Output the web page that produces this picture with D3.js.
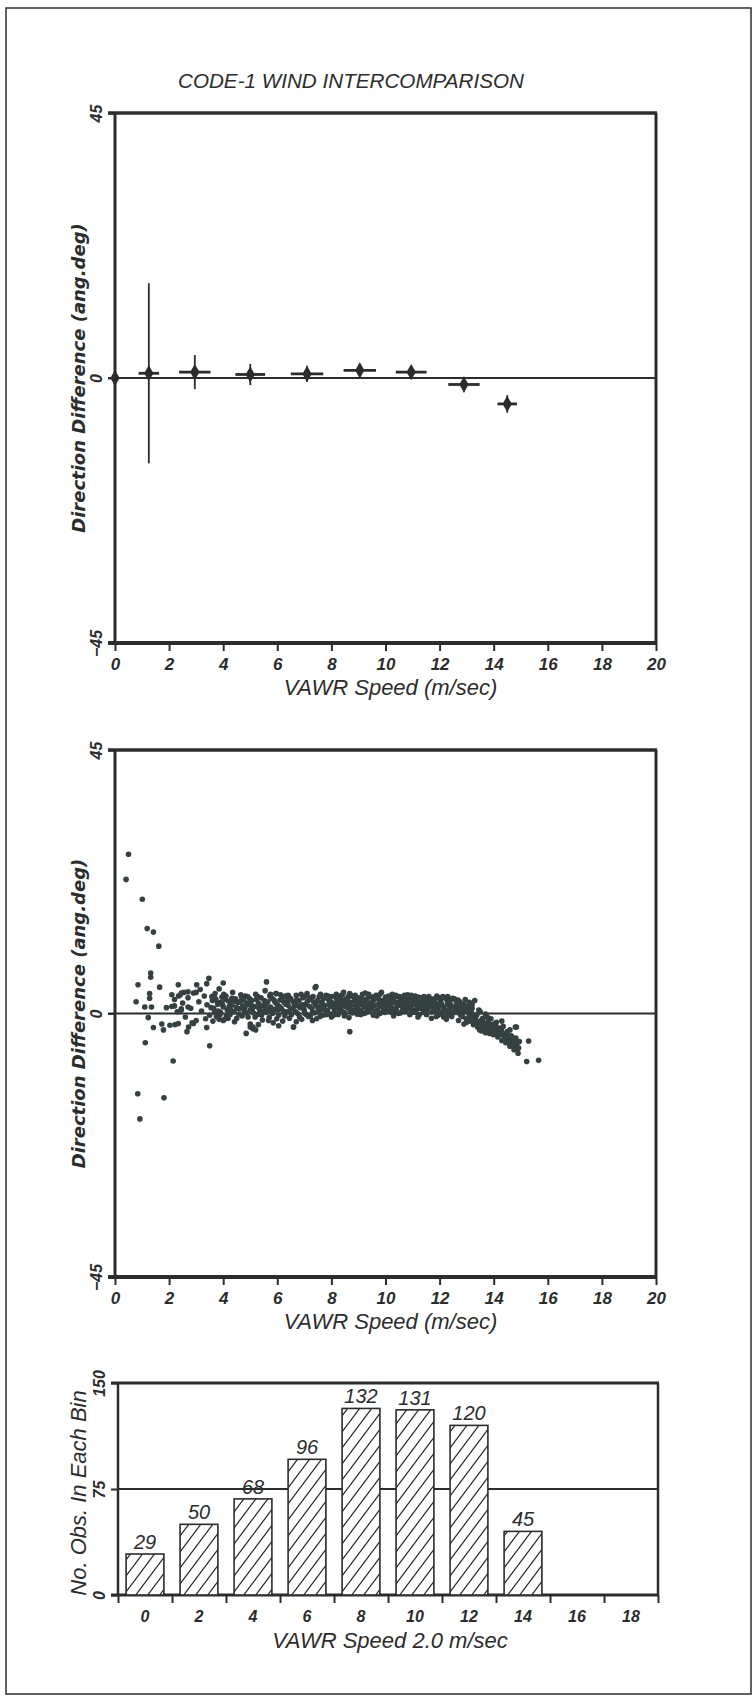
<!DOCTYPE html>
<html><head><meta charset="utf-8">
<script src="https://cdn.jsdelivr.net/npm/d3@7"></script>
<style>body{margin:0;background:#fff}svg{display:block}</style>
</head><body>
<script>
// ---------- data ----------
const chartTitle = "CODE-1 WIND INTERCOMPARISON";
const speedTicks = [0,2,4,6,8,10,12,14,16,18,20];
const diffTicks = [-45,0,45];
const countTicks = [0,75,150];

// panel 1: bin means with error bars
const binSpeed  = [0, 1.25, 2.95, 5.0, 7.1, 9.05, 10.95, 12.9, 14.5];
const meanDiff  = [0, 0.8, 1.0, 0.6, 0.7, 1.3, 1.0, -1.1, -4.4];
const diffErr   = [0, 15.3, 2.9, 1.8, 1.4, 1.1, 0.8, 1.3, 1.5];
const speedErr  = [0, 0.38, 0.58, 0.55, 0.6, 0.6, 0.57, 0.58, 0.36];

// panel 2: individual observations [speed, direction difference]
const scatterPoints = [
[0.41,22.9],[0.50,27.2],[1.01,19.5],[1.19,14.5],[1.42,13.9],[1.62,11.5],[1.32,6.9],[1.32,6.2],[0.85,4.9],[1.65,4.5],
[0.78,2.0],[1.12,-5.0],[2.15,-8.1],[0.84,-13.7],[1.81,-14.4],[0.92,-18.0],[3.50,-5.5],[4.85,-3.4],[8.68,-3.1],[15.29,-4.7],
[15.22,-8.2],[15.66,-8.0],[14.84,-2.3],[5.60,5.4],[3.47,6.0],[4.00,5.2],[7.43,4.6],
[1.28,3.4],[1.28,2.6],[1.10,1.1],[1.35,1.1],[1.23,-0.7],[1.42,-2.4],[1.73,-1.8],[1.79,-2.8],[2.03,-2.0],[2.22,-1.9],[2.34,-1.7],
[2.1,3.2],[2.35,3.0],[2.45,3.5],[2.7,3.7],[3.0,3.6],[1.9,1.0],[2.2,1.3],[2.45,0.6],[2.7,1.1],[2.66,-3.1],[2.72,-2.3],[2.9,-1.7],
[3.39,-2.4],[3.85,-1.0],[4.0,-1.2],[5.0,-2.3],[5.1,-2.6],[5.2,-2.8],[6.6,-2.3],[5.96,3.4],[6.4,3.1],[2.34,4.9],[3.02,4.9],[3.39,5.1],
[2.1,1.2],[2.2,2.4],[2.3,0.3],[2.4,3.1],[2.5,1.8],[2.6,-0.6],[2.7,2.7],[2.8,0.9],[2.9,3.5],[3.0,-1.2],[3.1,2.0],[3.2,0.4],[3.3,3.0],
[3.4,1.5],[3.5,-0.3],[2.55,3.6],[2.85,-1.6],[3.15,4.1],[3.35,-0.9],[2.45,0.8],
[3.6,2.2],[3.65,0.9],[3.7,3.4],[3.75,-0.5],[3.8,1.6],[3.85,4.2],[3.9,0.2],[3.95,2.8],[4.0,1.1],[4.05,-1.0],[4.1,3.0],[4.15,0.6],
[4.2,2.1],[4.25,-0.2],[4.3,1.4],[4.35,3.6],[4.4,0.3],[4.45,2.5],[4.5,-0.8],[4.55,1.9],[4.6,0.8],[4.65,3.2],[4.7,-0.4],[4.75,2.3],
[4.8,1.0],[4.85,0.1],[4.9,2.9],[4.95,1.5],[5.0,-1.8],[5.0,0.6],
[5.05,2.2],[5.1,-2.3],[5.15,1.2],[5.2,3.3],[5.25,-0.2],[5.3,1.8],[5.35,0.5],[5.4,2.7],[5.45,-1.1],[5.5,1.3],[5.55,3.9],[5.6,0.2],
[5.65,2.0],[5.7,-0.7],[5.75,1.1],[5.8,2.6],[5.85,-1.6],[5.9,0.7],[5.95,3.4],[6.0,1.5],[6.05,-0.3],[6.1,2.3],[6.15,0.9],[6.2,-1.3],
[6.25,1.9],[6.3,3.0],[6.35,0.3],[6.4,1.4],[6.45,-0.8],[6.5,2.5],[5.3,-1.9],[5.75,3.3],[6.05,-2.1],[6.35,2.8],
[6.55,0.8],[6.6,-2.3],[6.65,1.7],[6.7,3.1],[6.75,0.0],[6.8,2.2],[6.85,1.0],[6.9,-1.0],[6.95,2.7],[7.0,0.5],[7.05,1.6],[7.1,3.4],
[7.15,-0.5],[7.2,1.2],[7.25,2.4],[7.3,0.2],[7.35,1.9],[7.4,4.4],[7.45,-0.9],[7.5,1.0],[7.55,2.9],[7.6,0.6],[7.65,2.0],[7.7,-0.3],
[7.75,1.4],[7.8,3.1],[7.85,0.4],[7.9,2.3],[7.95,1.1],[8.0,-0.6],[6.7,-1.4],[7.0,2.9],[7.3,-1.2],[7.6,3.3],[7.9,0.0],
[8.05,1.8],[8.1,0.3],[8.15,2.8],[8.2,1.2],[8.25,-0.2],[8.3,2.2],[8.35,0.9],[8.4,3.2],[8.45,1.5],[8.5,0.1],[8.55,2.5],[8.6,1.0],
[8.65,-0.7],[8.7,1.9],[8.75,3.0],[8.8,0.6],[8.85,2.1],[8.9,1.3],[8.95,-0.1],[9.0,2.7],[9.05,1.6],[9.1,0.4],[9.15,3.3],[9.2,1.1],
[9.25,2.3],[9.3,0.2],[9.35,1.7],[9.4,2.9],[9.45,0.8],[9.5,2.0],[9.55,-0.3],[9.6,1.4],[9.65,3.1],[9.7,0.6],[9.75,2.4],[9.8,1.2],
[9.85,3.6],[9.9,0.3],[9.95,1.8],[10.0,2.8],[8.1,1.5],[8.3,0.4],[8.5,1.9],[8.7,0.5],[8.9,2.5],[9.1,1.9],[9.3,1.0],[9.5,0.9],
[9.7,1.5],[9.9,2.2],[8.2,2.5],[8.6,2.2],[9.0,0.7],[9.4,1.3],[9.8,0.0],[8.45,3.6],[9.25,3.5],[10.0,0.9],
[10.05,1.5],[10.1,0.4],[10.15,2.6],[10.2,1.1],[10.25,3.3],[10.3,-0.4],[10.35,1.9],[10.4,0.8],[10.45,2.9],[10.5,1.4],[10.55,0.1],
[10.6,2.3],[10.65,1.0],[10.7,3.1],[10.75,0.5],[10.8,1.8],[10.85,2.6],[10.9,-0.2],[10.95,1.3],[11.0,2.2],[11.05,0.6],[11.1,3.0],
[11.15,1.5],[11.2,-0.6],[11.25,2.0],[11.3,0.9],[11.35,2.7],[11.4,0.2],[11.45,1.6],[11.5,2.4],[10.2,2.1],[10.5,2.0],[10.8,0.9],
[11.1,1.9],[11.4,1.2],[10.35,0.5],[10.95,3.1],[11.25,-0.2],
[11.55,0.7],[11.6,2.9],[11.65,1.2],[11.7,-0.8],[11.75,2.1],[11.8,0.4],[11.85,1.7],[11.9,3.0],[11.95,-0.3],[12.0,1.3],[12.05,2.4],
[12.1,0.0],[12.15,1.0],[12.2,2.7],[12.25,-1.0],[12.3,1.6],[12.35,0.5],[12.4,2.2],[12.45,-0.5],[12.5,1.1],[11.7,1.6],[12.0,0.3],
[12.3,2.9],[12.15,-0.6],
[12.55,2.5],[12.6,0.2],[12.65,1.3],[12.7,-1.2],[12.75,2.0],[12.8,0.6],[12.85,-0.5],[12.9,1.6],[12.95,2.4],[13.0,-1.5],[13.05,0.3],
[13.1,1.9],[13.15,-0.8],[13.2,0.9],[13.25,-1.9],[13.3,2.2],[12.7,0.9],[12.9,-1.8],[13.1,-0.3],[13.2,1.5],
[13.35,-0.4],[13.4,-2.3],[13.45,0.6],[13.5,-1.3],[13.55,-3.0],[13.6,-0.8],[13.65,-2.0],[13.7,-0.1],[13.75,-2.8],[13.8,-1.5],
[13.85,-3.4],[13.9,-0.9],[13.95,-2.4],[14.0,-1.8],[13.5,0.3],[13.7,-3.3],[13.9,-1.9],
[14.05,-3.2],[14.1,-1.5],[14.15,-4.0],[14.2,-2.5],[14.25,-3.6],[14.3,-4.6],[14.35,-2.2],[14.4,-3.9],[14.45,-5.0],[14.5,-3.1],
[14.55,-4.4],[14.6,-5.6],[14.65,-3.8],[14.7,-4.9],[14.75,-6.2],[14.8,-2.3],[14.85,-5.3],[14.9,-6.8],[14.3,-1.3],[14.6,-2.8],
[3.55,1.0],[3.62,-1.3],[3.72,2.5],[3.82,0.4],[3.92,1.9],[4.02,3.3],[4.12,-0.3],[4.22,1.2],[4.32,2.6],[4.42,-1.4],[4.52,0.9],
[4.62,2.0],[4.72,1.3],[4.82,3.0],[4.92,-0.6],[5.02,1.7],[5.12,0.1],[5.22,2.4],[5.32,0.9],[5.42,-0.3],[5.52,2.2],[5.62,1.0],
[5.72,3.0],[5.82,0.0],[5.92,1.9],[6.02,0.6],[6.12,3.2],[6.22,0.4],[6.32,1.6],[6.42,2.9],[6.52,-0.2],[6.62,1.2],[6.72,2.4],
[6.82,-0.6],[6.92,1.5],
[7.02,0.0],[7.12,2.1],[7.22,-0.4],[7.32,2.9],[7.42,1.5],[7.52,0.3],[7.62,1.7],[7.72,2.6],[7.82,-0.2],[7.92,1.6],[8.02,2.9],
[8.12,0.8],[8.22,1.9],[8.32,3.0],[8.42,0.3],[8.52,1.2],[8.62,2.9],[8.72,1.4],[8.82,2.8],[8.92,0.6],[9.02,1.8],[9.12,2.6],
[9.22,0.0],[9.32,2.5],[9.42,0.4],[9.52,2.8],[9.62,0.3],[9.72,2.7],[9.82,1.9],[9.92,1.0],[10.02,1.9],[10.12,3.0],[10.22,0.2],
[10.32,2.7],[10.42,1.6],[10.52,2.9],[10.62,0.5],[10.72,1.9],[10.82,3.2],[10.92,0.7],[11.02,1.6],[11.12,0.2],[11.22,2.8],
[11.32,1.5],[11.42,2.9],[11.52,-0.2],[11.62,1.9],[11.72,0.3],[11.82,2.5],[11.92,0.9],[12.02,2.0],[12.12,2.9],[12.22,0.6],
[12.32,-0.3],[12.42,1.4],
[12.52,0.2],[12.62,1.9],[12.72,0.1],[12.82,1.5],[12.92,0.5],[13.02,1.2],[13.12,-1.3],[13.22,-0.3],[13.32,-1.0],[13.42,-1.6],
[13.52,-2.2],[13.62,-1.5],[13.72,-2.3],[13.82,-2.1],[13.92,-2.9],[14.02,-2.6],[14.12,-3.0],[14.22,-3.1],[14.32,-3.3],[14.42,-4.4],
[14.52,-4.0],[14.62,-4.6],[14.72,-5.5],[14.82,-4.2],[14.92,-5.9],
[3.58,2.9],[3.68,0.2],[3.78,2.0],[3.88,-0.2],[3.98,1.5],[4.08,2.4],[4.18,-0.8],[4.28,0.6],[4.38,2.0],[4.48,1.1],[4.58,-0.1],
[4.68,2.7],[4.78,0.4],[4.88,1.8],[4.98,2.5],
[5.08,0.8],[5.18,-0.6],[5.28,2.9],[5.38,1.4],[5.48,0.4],[5.58,1.7],[5.68,-1.2],[5.78,0.5],[5.88,2.3],[5.98,-0.9],[6.08,1.2],
[6.18,2.6],[6.28,-0.4],[6.38,2.1],[6.48,0.7],[6.58,2.0],[6.68,0.3],[6.78,1.3],[6.88,3.3],[6.98,1.1],
[7.08,-0.2],[7.18,2.7],[7.28,0.9],[7.38,0.1],[7.48,2.2],[7.58,-0.5],[7.68,1.1],[7.78,0.6],[7.88,3.0],[7.98,2.0],
[8.08,-0.3],[8.18,3.3],[8.28,1.6],[8.38,2.4],[8.48,-0.4],[8.58,1.6],[8.68,3.4],[8.78,0.1],[8.88,3.1],[8.98,2.0],[9.08,-0.2],
[9.18,2.0],[9.28,1.4],[9.38,3.3],[9.48,1.6],[9.58,2.4],[9.68,-0.4],[9.78,3.2],[9.88,1.5],[9.98,0.2],
[10.08,2.3],[10.18,1.6],[10.28,0.9],[10.38,3.1],[10.48,0.0],[10.58,1.7],[10.68,2.7],[10.78,1.2],[10.88,2.1],[10.98,0.2],
[11.08,2.5],[11.18,0.8],[11.28,1.2],[11.38,2.0],[11.48,0.5],
[11.58,1.6],[11.68,2.5],[11.78,1.1],[11.88,-0.5],[11.98,2.7],[12.08,1.6],[12.18,0.3],[12.28,2.2],[12.38,1.0],[12.48,2.6],
[12.58,1.0],[12.68,2.3],[12.78,-0.3],[12.88,1.1],[12.98,-0.9],[13.08,0.8],[13.18,0.2],[13.28,-1.3],[13.38,-0.2],[13.48,-2.8],
[13.58,-1.0],[13.68,-2.6],[13.78,-0.7],[13.88,-2.4],[13.98,-3.6],
[14.08,-2.2],[14.18,-3.6],[14.28,-2.8],[14.38,-4.6],[14.48,-3.6],[14.58,-5.0],[14.68,-4.2],[14.78,-5.0],[14.88,-6.0],[14.95,-4.8]
];

// panel 3: histogram
const binStart = [0,2,4,6,8,10,12,14,16,18];
const binCount = [29,50,68,96,132,131,120,45,0,0];

const xLabel1 = "VAWR Speed (m/sec)";
const yLabel1 = "Direction Difference (ang.deg)";
const xLabel3 = "VAWR Speed 2.0 m/sec";
const yLabel3 = "No. Obs. In Each Bin";

// ---------- drawing ----------
const W = 754, H = 1697;
const ink = "#2b2d2d";
const FONT = "'Liberation Sans', Arial, sans-serif";
const svg = d3.select("body").append("svg").attr("width", W).attr("height", H);

svg.append("rect").attr("x", 6).attr("y", 8).attr("width", 745).attr("height", 1686)
  .attr("fill", "none").attr("stroke", ink).attr("stroke-width", 1.5);

svg.append("text").attr("x", 351).attr("y", 88).attr("text-anchor", "middle")
  .attr("font-family", FONT).attr("font-style", "italic").attr("font-size", 21)
  .attr("textLength", 346).attr("lengthAdjust", "spacingAndGlyphs")
  .attr("fill", ink).text(chartTitle);

function frame(g, x0, x1, y0, y1, wTop, wBot, wL, wR) {
  g.append("line").attr("x1", x0 - 7).attr("x2", x1 + 1).attr("y1", y0).attr("y2", y0).attr("stroke", ink).attr("stroke-width", wTop);
  g.append("line").attr("x1", x0 - 7).attr("x2", x1 + 1).attr("y1", y1).attr("y2", y1).attr("stroke", ink).attr("stroke-width", wBot);
  g.append("line").attr("x1", x0).attr("x2", x0).attr("y1", y0).attr("y2", y1).attr("stroke", ink).attr("stroke-width", wL);
  g.append("line").attr("x1", x1).attr("x2", x1).attr("y1", y0).attr("y2", y1).attr("stroke", ink).attr("stroke-width", wR);
}

function styleAxis(sel, size) {
  sel.select(".domain").remove();
  sel.selectAll(".tick line").attr("stroke", ink).attr("stroke-width", 2);
  sel.selectAll(".tick text").attr("fill", ink).attr("font-family", FONT)
    .attr("font-style", "italic").attr("font-weight", "bold").attr("font-size", size);
}

function rotateLeftLabels(sel, off) {
  sel.selectAll(".tick text").attr("transform", "rotate(-90)")
    .attr("x", 0).attr("y", -off).attr("dy", 0).attr("text-anchor", "middle");
}

function diffPanel(yTop, yBot) {
  const g = svg.append("g");
  const x = d3.scaleLinear().domain([0, 20]).range([115, 656]);
  const y = d3.scaleLinear().domain([-45, 45]).range([yBot, yTop]);
  g.append("line").attr("x1", x(0) - 7).attr("x2", x(20)).attr("y1", y(0)).attr("y2", y(0))
    .attr("stroke", ink).attr("stroke-width", 2);
  frame(g, x(0), x(20), y(45), y(-45), 3.5, 4, 3, 3);
  const ax = g.append("g").attr("transform", `translate(0,${y(-45)})`)
    .call(d3.axisBottom(x).tickValues(speedTicks).tickSize(8).tickPadding(7).tickFormat(d3.format("d")));
  styleAxis(ax, 17);
  const ay = g.append("g").attr("transform", `translate(${x(0)},0)`)
    .call(d3.axisLeft(y).tickValues(diffTicks).tickSize(7).tickFormat(d => d < 0 ? "\u2212" + (-d) : d));
  styleAxis(ay, 16);
  rotateLeftLabels(ay, 13);
  g.append("text").attr("x", x(10) + 5).attr("y", yBot + 52).attr("text-anchor", "middle")
    .attr("font-family", FONT).attr("font-style", "italic").attr("font-size", 22).attr("fill", ink).text(xLabel1);
  g.append("text").attr("transform", `translate(85,${(yTop + yBot) / 2}) rotate(-90)`).attr("text-anchor", "middle")
    .attr("font-family", "'DejaVu Sans', sans-serif").attr("font-style", "oblique").attr("font-weight", "bold")
    .attr("font-size", 18).attr("fill", ink).text(yLabel1);
  return {g, x, y};
}

// ---- panel 1
const p1 = diffPanel(113, 643);
const pts1 = binSpeed.map((s, i) => ({s, d: meanDiff[i], de: diffErr[i], se: speedErr[i]}));
p1.g.selectAll(".vbar").data(pts1).join("line")
  .attr("x1", d => p1.x(d.s)).attr("x2", d => p1.x(d.s))
  .attr("y1", d => p1.y(d.d + d.de)).attr("y2", d => p1.y(d.d - d.de))
  .attr("stroke", ink).attr("stroke-width", 1.8);
p1.g.selectAll(".hbar").data(pts1).join("line")
  .attr("x1", d => p1.x(d.s - d.se)).attr("x2", d => p1.x(d.s + d.se))
  .attr("y1", d => p1.y(d.d)).attr("y2", d => p1.y(d.d))
  .attr("stroke", ink).attr("stroke-width", 2.8);
p1.g.selectAll(".mk").data(pts1).join("path")
  .attr("transform", d => `translate(${p1.x(d.s)},${p1.y(d.d)})`)
  .attr("d", d3.symbol(d3.symbolDiamond, 75)).attr("fill", ink);

// ---- panel 2
const p2 = diffPanel(750, 1277);
p2.g.selectAll(".dot").data(scatterPoints).join("circle")
  .attr("cx", d => p2.x(d[0])).attr("cy", d => p2.y(d[1])).attr("r", 2.8).attr("fill", "#354040");

// ---- panel 3 histogram
const defs = svg.append("defs");
const pat = defs.append("pattern").attr("id", "hatch").attr("patternUnits", "userSpaceOnUse")
  .attr("width", 12).attr("height", 16);
pat.append("rect").attr("width", 12).attr("height", 16).attr("fill", "#fff");
pat.append("path").attr("d", "M-3,4 L3,-4 M0,16 L12,0 M9,20 L15,12")
  .attr("stroke", ink).attr("stroke-width", 1.3);

const g3 = svg.append("g");
const xb = d3.scaleLinear().domain([0, 20]).range([118, 658]);
const yb = d3.scaleLinear().domain([0, 150]).range([1595, 1383]);
g3.append("line").attr("x1", xb(0)).attr("x2", xb(20)).attr("y1", yb(75)).attr("y2", yb(75))
  .attr("stroke", ink).attr("stroke-width", 1.8);
frame(g3, xb(0), xb(20), yb(150), yb(0), 3, 3, 2.5, 2.5);
const bars = binStart.map((b, i) => ({b, c: binCount[i]})).filter(d => d.c > 0);
g3.selectAll(".bar").data(bars).join("rect")
  .attr("x", d => xb(d.b + 0.3)).attr("width", d => xb(d.b + 1.7) - xb(d.b + 0.3))
  .attr("y", d => yb(d.c)).attr("height", d => yb(0) - yb(d.c))
  .attr("fill", "url(#hatch)").attr("stroke", ink).attr("stroke-width", 1.6);
g3.selectAll(".blab").data(bars).join("text")
  .attr("x", d => xb(d.b + 1)).attr("y", d => yb(d.c) - 5).attr("text-anchor", "middle")
  .attr("font-family", FONT).attr("font-style", "italic").attr("font-size", 20).attr("fill", ink)
  .text(d => d.c);
const axb = g3.append("g").attr("transform", `translate(0,${yb(0)})`)
  .call(d3.axisBottom(xb).tickValues(speedTicks).tickSize(8).tickFormat(""));
styleAxis(axb, 15);
g3.selectAll(".btick").data(binStart).join("text")
  .attr("x", d => xb(d + 1)).attr("y", 1622).attr("text-anchor", "middle")
  .attr("font-family", FONT).attr("font-style", "italic").attr("font-weight", "bold").attr("font-size", 16)
  .attr("fill", ink).text(d => d);
const ayb = g3.append("g").attr("transform", `translate(${xb(0)},0)`)
  .call(d3.axisLeft(yb).tickValues(countTicks).tickSize(7));
styleAxis(ayb, 16);
rotateLeftLabels(ayb, 13);
g3.append("text").attr("x", 390).attr("y", 1648).attr("text-anchor", "middle")
  .attr("font-family", FONT).attr("font-style", "italic").attr("font-size", 22).attr("fill", ink).text(xLabel3);
g3.append("text").attr("transform", `translate(86,${(1383 + 1595) / 2 + 4}) rotate(-90)`).attr("text-anchor", "middle")
  .attr("font-family", FONT).attr("font-style", "italic").attr("font-size", 22).attr("fill", ink).text(yLabel3);
</script>
</body></html>
